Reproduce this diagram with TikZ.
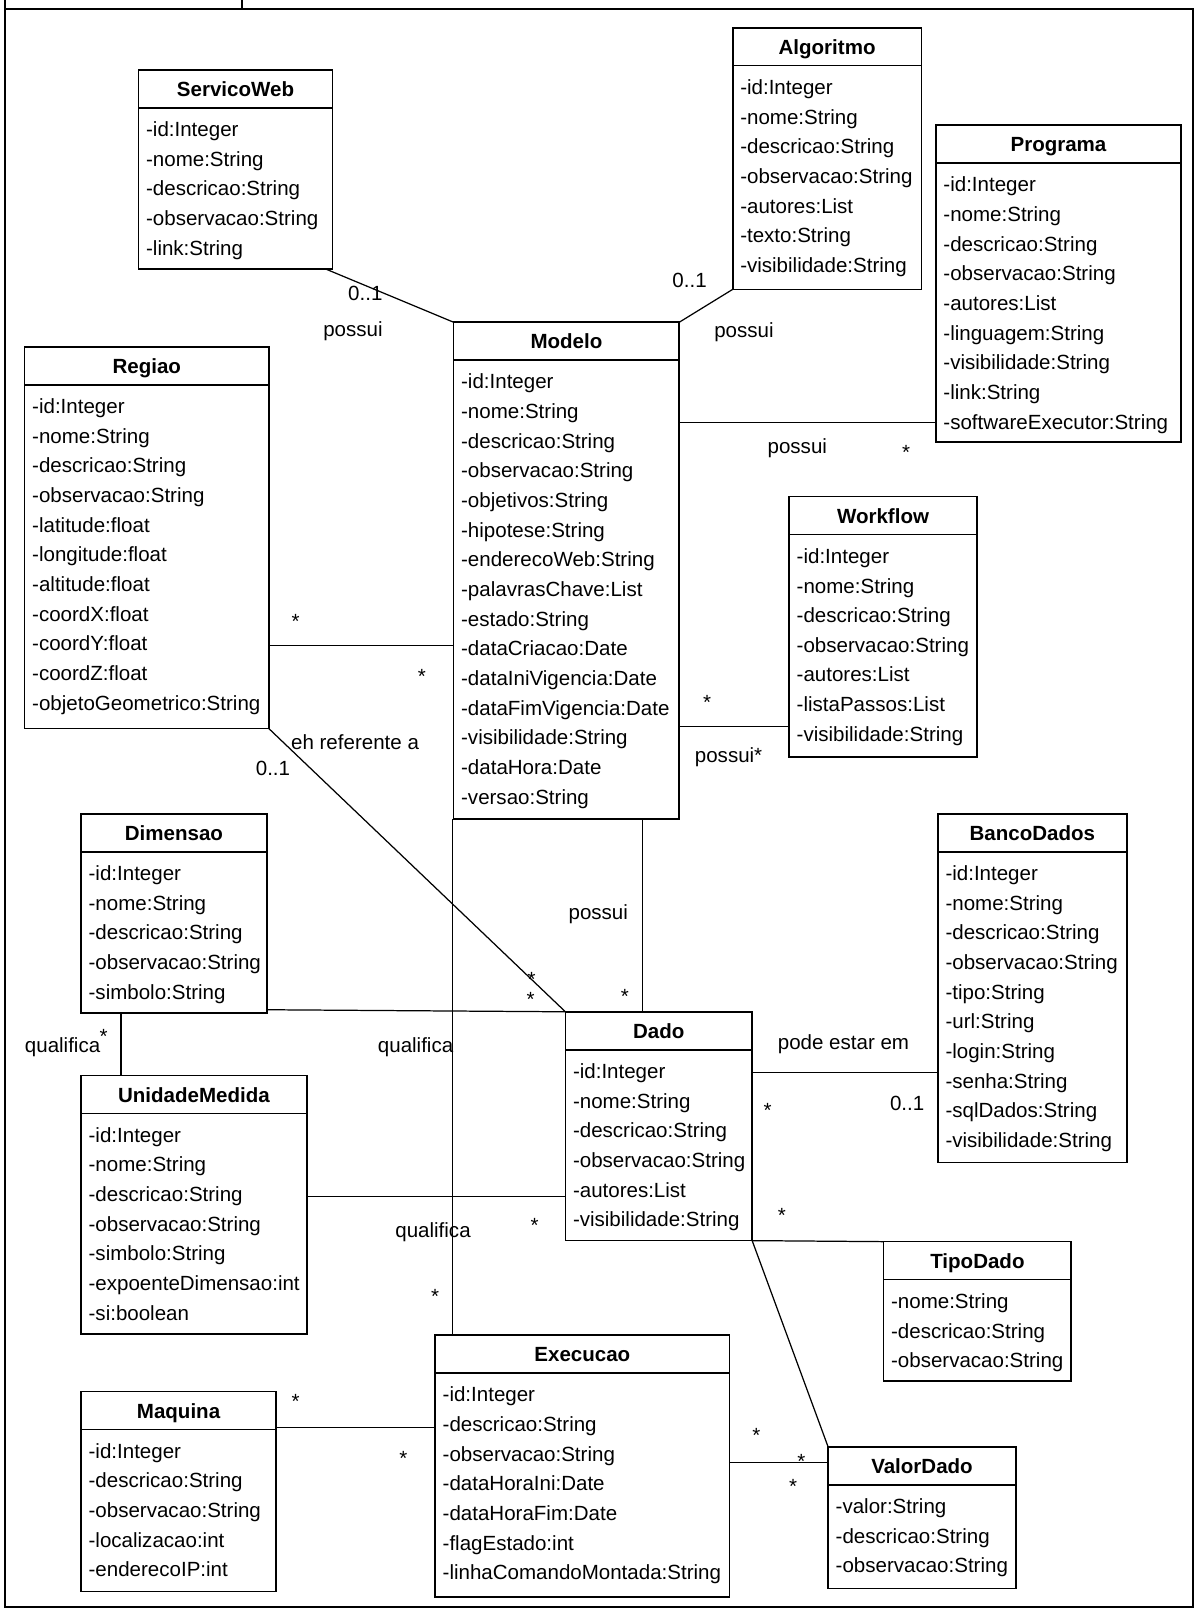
\documentclass[tikz,border=0pt]{standalone}
\usepackage{fontspec}
\setmainfont{Liberation Sans}
\usetikzlibrary{calc}

\tikzset{
  classbox/.style={draw, rectangle, line width=0.8pt, inner sep=0pt, outer sep=0pt},
  headline/.style={line width=0.8pt},
  classtitle/.style={font=\bfseries, anchor=base, inner sep=0pt},
  attr/.style={anchor=base west, inner sep=0pt},
  lbl/.style={anchor=base, inner sep=0pt},
  assoc/.style={line width=0.6pt},
  frameline/.style={line width=1pt}
}

% UML class: name, left, top, right, bottom, title, attribute list
\newcommand\umlclass[7]{%
  \node[classbox, anchor=north west,
        minimum width={(#4-#2)*0.5pt}, minimum height={(#5-#3)*0.5pt}] (#1) at (#2,#3) {};
  \draw[headline] ($(#1.north west)+(0,37)$) -- ($(#1.north east)+(0,37)$);
  \node[classtitle] (#1-title) at ($(#1.north)+(0,26)$) {#6};
  \foreach \x [count=\i from 0] in {#7}{%
    \node[attr] (#1-a\i) at ($(#1.north west)+(7,{65+28.9*\i})$) {\x};
  }%
}

\begin{document}
\begin{tikzpicture}[x=0.5pt, y=-0.5pt, font=\fontsize{10}{12}\selectfont]
\useasboundingbox (0,0) rectangle (1165,1568);

% diagram frame with its name tab
\draw[frameline] (5,9) rectangle (1163,1566);
\draw[frameline] (5,0) -- (5,9);
\draw[frameline] (236,0) -- (236,9);

% classes
\umlclass{servico}{135}{68}{324}{262}{ServicoWeb}
  {-id:Integer,-nome:String,-descricao:String,-observacao:String,-link:String}
\umlclass{algoritmo}{714}{27}{898}{282}{Algoritmo}
  {-id:Integer,-nome:String,-descricao:String,-observacao:String,-autores:List,-texto:String,-visibilidade:String}
\umlclass{programa}{912}{122}{1151}{431}{Programa}
  {-id:Integer,-nome:String,-descricao:String,-observacao:String,-autores:List,-linguagem:String,-visibilidade:String,-link:String,-softwareExecutor:String}
\umlclass{modelo}{442}{314}{662}{798}{Modelo}
  {-id:Integer,-nome:String,-descricao:String,-observacao:String,-objetivos:String,-hipotese:String,-enderecoWeb:String,-palavrasChave:List,-estado:String,-dataCriacao:Date,-dataIniVigencia:Date,-dataFimVigencia:Date,-visibilidade:String,-dataHora:Date,-versao:String}
\umlclass{regiao}{24}{338}{262}{710}{Regiao}
  {-id:Integer,-nome:String,-descricao:String,-observacao:String,-latitude:float,-longitude:float,-altitude:float,-coordX:float,-coordY:float,-coordZ:float,-objetoGeometrico:String}
\umlclass{workflow}{769}{484}{952}{738}{Workflow}
  {-id:Integer,-nome:String,-descricao:String,-observacao:String,-autores:List,-listaPassos:List,-visibilidade:String}
\umlclass{dimensao}{79}{793}{260}{987}{Dimensao}
  {-id:Integer,-nome:String,-descricao:String,-observacao:String,-simbolo:String}
\umlclass{banco}{914}{793}{1098}{1133}{BancoDados}
  {-id:Integer,-nome:String,-descricao:String,-observacao:String,-tipo:String,-url:String,-login:String,-senha:String,-sqlDados:String,-visibilidade:String}
\umlclass{dado}{551}{986}{733}{1209}{Dado}
  {-id:Integer,-nome:String,-descricao:String,-observacao:String,-autores:List,-visibilidade:String}
\umlclass{unidade}{79}{1048}{299}{1300}{UnidadeMedida}
  {-id:Integer,-nome:String,-descricao:String,-observacao:String,-simbolo:String,-expoenteDimensao:int,-si:boolean}
\umlclass{tipodado}{861}{1210}{1044}{1346}{TipoDado}
  {-nome:String,-descricao:String,-observacao:String}
\umlclass{execucao}{424}{1301}{711}{1556}{Execucao}
  {-id:Integer,-descricao:String,-observacao:String,-dataHoraIni:Date,-dataHoraFim:Date,-flagEstado:int,-linhaComandoMontada:String}
\umlclass{maquina}{79}{1356}{269}{1551}{Maquina}
  {-id:Integer,-descricao:String,-observacao:String,-localizacao:int,-enderecoIP:int}
\umlclass{valordado}{807}{1410}{990}{1548}{ValorDado}
  {-valor:String,-descricao:String,-observacao:String}

% associations
\draw[assoc] ($(servico.south east)+(-7,0)$) -- (modelo.north west);
\draw[assoc] (modelo.north east) -- (algoritmo.south west);
\draw[assoc] ($(modelo.north east)+(0,98)$) -- ($(programa.north west)+(0,290)$);
\draw[assoc] ($(regiao.north east)+(0,291)$) -- ($(modelo.north west)+(0,315)$);
\draw[assoc] ($(modelo.north east)+(0,394)$) -- ($(workflow.north west)+(0,224)$);
\draw[assoc] ($(modelo.south west)+(184,0)$) -- ($(dado.north west)+(75,0)$);
\draw[assoc] (regiao.south east) -- (dado.north west);
\draw[assoc] ($(dimensao.north east)+(0,191)$) -- (dado.north west);
\draw[assoc] ($(unidade.north east)+(0,118)$) -- ($(dado.north west)+(0,180)$);
\draw[assoc] ($(dimensao.south west)+(39,0)$) -- ($(unidade.north west)+(39,0)$);
\draw[assoc] ($(dado.north east)+(0,59)$) -- ($(banco.north west)+(0,252)$);
\draw[assoc] (dado.south east) -- (tipodado.north west);
\draw[assoc] (dado.south east) -- (valordado.north west);
\draw[assoc] ($(execucao.north east)+(0,124)$) -- ($(valordado.north west)+(0,15)$);
\draw[assoc] ($(maquina.north east)+(0,35)$) -- ($(execucao.north west)+(0,90)$);
\draw[assoc] ($(modelo.south west)+(-1,0)$) -- ($(execucao.north west)+(17,0)$);

% association names and multiplicities
\node[lbl] (l1)  at (356,293)  {0..1};
\node[lbl] (l2)  at (344,328)  {possui};
\node[lbl] (l3)  at (672,280)  {0..1};
\node[lbl] (l4)  at (725,329)  {possui};
\node[lbl] (l5)  at (777,442)  {possui};
\node[lbl] (l6)  at (883,448)  {*};
\node[lbl] (l7)  at (288,612)  {*};
\node[lbl] (l8)  at (411,666)  {*};
\node[lbl] (l9)  at (689,691)  {*};
\node[lbl] (l10) at (710,743)  {possui*};
\node[lbl] (l11) at (583,896)  {possui};
\node[lbl] (l12) at (609,978)  {*};
\node[lbl] (l13) at (346,730)  {eh referente a};
\node[lbl] (l14) at (266,756)  {0..1};
\node[lbl] (l15) at (518,961)  {*};
\node[lbl] (l16) at (517,981)  {*};
\node[lbl] (l17) at (405,1026) {qualifica};
\node[lbl] (l18) at (61,1026)  {qualifica};
\node[lbl] (l19) at (101,1017) {*};
\node[lbl] (l20) at (422,1206) {qualifica};
\node[lbl] (l21) at (521,1201) {*};
\node[lbl] (l22) at (822,1023) {pode estar em};
\node[lbl] (l23) at (748,1089) {*};
\node[lbl] (l24) at (884,1082) {0..1};
\node[lbl] (l25) at (762,1191) {*};
\node[lbl] (l26) at (424,1270) {*};
\node[lbl] (l27) at (288,1373) {*};
\node[lbl] (l28) at (393,1428) {*};
\node[lbl] (l29) at (737,1406) {*};
\node[lbl] (l30) at (781,1431) {*};
\node[lbl] (l31) at (773,1455) {*};
\end{tikzpicture}
\end{document}
